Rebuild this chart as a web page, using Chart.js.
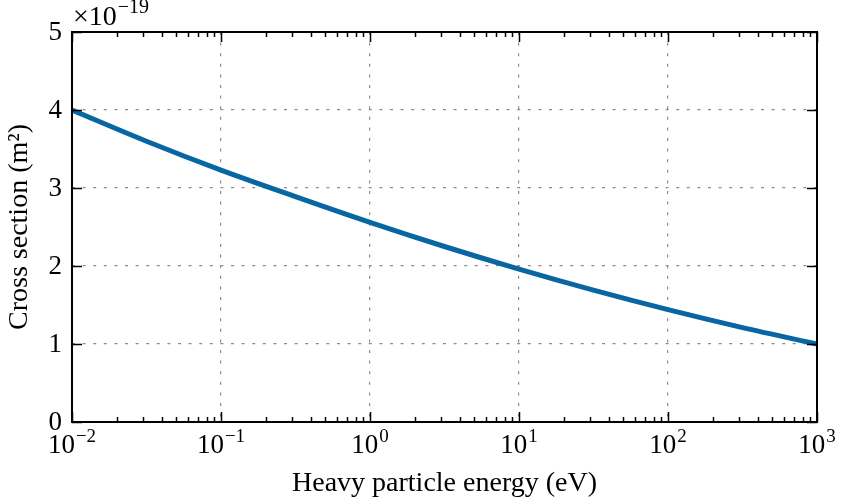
<!DOCTYPE html>
<html>
<head>
<meta charset="utf-8">
<script src="https://cdn.jsdelivr.net/npm/chart.js@4/dist/chart.umd.min.js"></script>
<style>
  html, body { margin: 0; padding: 0; background: #fff; }
  #wrap { width: 841px; height: 502px; position: relative; }
</style>
</head>
<body>
<div id="wrap"><canvas id="c" width="841" height="502"></canvas></div>
<script>
// Data (energy in eV, cross section in units of 1e-19 m^2)
const energies = [0.01, 0.0316, 0.1, 0.316, 1, 3.16, 10, 31.6, 100, 316, 1000];
const crossSection = [4.00, 3.60, 3.23, 2.89, 2.56, 2.25, 1.96, 1.69, 1.44, 1.21, 1.00];
const xTickExponents = [-2, -1, 0, 1, 2, 3];
const yTickValues = [0, 1, 2, 3, 4, 5];
const xTitle = 'Heavy particle energy (eV)';
const yTitle = 'Cross section (m\u00B2)';
const yMultiplierExp = '\u221219';

const SERIF = '"Liberation Serif", "DejaVu Serif", serif';
const LINE_COLOR = '#0867a3';

function drawPow(ctx, base, exp, x, y, size, align) {
  ctx.save();
  ctx.fillStyle = '#000';
  ctx.textBaseline = 'alphabetic';
  ctx.font = size + 'px ' + SERIF;
  const wb = ctx.measureText(base).width;
  const es = Math.round(size * 0.72);
  ctx.font = es + 'px ' + SERIF;
  const we = ctx.measureText(exp).width;
  const total = wb + we + 1;
  let x0 = align === 'center' ? x - total / 2 : x;
  ctx.font = size + 'px ' + SERIF;
  ctx.textAlign = 'left';
  ctx.fillText(base, x0, y);
  ctx.font = es + 'px ' + SERIF;
  ctx.fillText(exp, x0 + wb + 1, y - size * 0.42);
  ctx.restore();
}

const framePlugin = {
  id: 'frame',
  afterDatasetsDraw(chart) {
    const ctx = chart.ctx;
    const a = chart.chartArea;
    const xs = chart.scales.x, ys = chart.scales.y;
    ctx.save();
    ctx.strokeStyle = '#000';
    ctx.lineWidth = 1.5;
    // minor and major ticks on log x axis (bottom and top, pointing inward)
    for (let e = -2; e <= 3; e++) {
      for (let m = 1; m <= 9; m++) {
        const v = m * Math.pow(10, e);
        if (v > 1000.0001) continue;
        const px = Math.round(xs.getPixelForValue(v)) + 0.5;
        const len = m === 1 ? 10 : 5;
        ctx.beginPath();
        ctx.moveTo(px, a.bottom); ctx.lineTo(px, a.bottom - len);
        ctx.moveTo(px, a.top); ctx.lineTo(px, a.top + len);
        ctx.stroke();
      }
    }
    // y major ticks left and right
    yTickValues.forEach(v => {
      const py = Math.round(ys.getPixelForValue(v)) + 0.5;
      ctx.beginPath();
      ctx.moveTo(a.left, py); ctx.lineTo(a.left + 10, py);
      ctx.moveTo(a.right, py); ctx.lineTo(a.right - 10, py);
      ctx.stroke();
    });
    // frame
    ctx.lineWidth = 2;
    ctx.strokeRect(a.left, a.top, a.right - a.left, a.bottom - a.top);
    // y tick labels
    ctx.fillStyle = '#000';
    ctx.font = '27px ' + SERIF;
    ctx.textAlign = 'right';
    ctx.textBaseline = 'middle';
    yTickValues.forEach(v => {
      ctx.fillText(String(v), a.left - 10, ys.getPixelForValue(v) + 1);
    });
    // x tick labels 10^n
    xTickExponents.forEach(e => {
      const px = xs.getPixelForValue(Math.pow(10, e));
      const ex = e < 0 ? '\u2212' + Math.abs(e) : String(e);
      drawPow(ctx, '10', ex, px, a.bottom + 31, 27, 'center');
    });
    // multiplier
    drawPow(ctx, '\u00D710', yMultiplierExp, a.left + 1, a.top - 7, 28, 'left');
    ctx.restore();
  }
};

new Chart(document.getElementById('c'), {
  type: 'line',
  data: {
    datasets: [{
      data: energies.map((e, i) => ({ x: e, y: crossSection[i] })),
      borderColor: LINE_COLOR,
      borderWidth: 5,
      pointRadius: 0,
      fill: false,
      cubicInterpolationMode: 'monotone',
      borderCapStyle: 'butt'
    }]
  },
  options: {
    responsive: false,
    animation: false,
    devicePixelRatio: 1,
    layout: { padding: { left: 0, right: 24, top: 32, bottom: 0 } },
    plugins: { legend: { display: false }, tooltip: { enabled: false } },
    scales: {
      x: {
        type: 'logarithmic',
        min: 0.01, max: 1000,
        afterBuildTicks: s => { s.ticks = xTickExponents.map(e => ({ value: Math.pow(10, e), major: true })); },
        afterFit: s => { s.height = 80; },
        ticks: { display: false },
        grid: { color: '#8c8c8c', lineWidth: 1.2, drawTicks: false },
        border: { display: false, dash: [3, 7.6] },
        title: {
          display: true, text: xTitle, color: '#000',
          font: { family: SERIF, size: 28 }, padding: { top: 0, bottom: 2 }
        }
      },
      y: {
        min: 0, max: 5,
        afterBuildTicks: s => { s.ticks = yTickValues.map(v => ({ value: v })); },
        afterFit: s => { s.width = 72; },
        ticks: { display: false },
        grid: { color: '#8c8c8c', lineWidth: 1.2, drawTicks: false },
        border: { display: false, dash: [3, 7.6] },
        title: {
          display: true, text: yTitle, color: '#000',
          font: { family: SERIF, size: 28 }, padding: { top: 3, bottom: 0 }
        }
      }
    }
  },
  plugins: [framePlugin]
});
</script>
</body>
</html>
